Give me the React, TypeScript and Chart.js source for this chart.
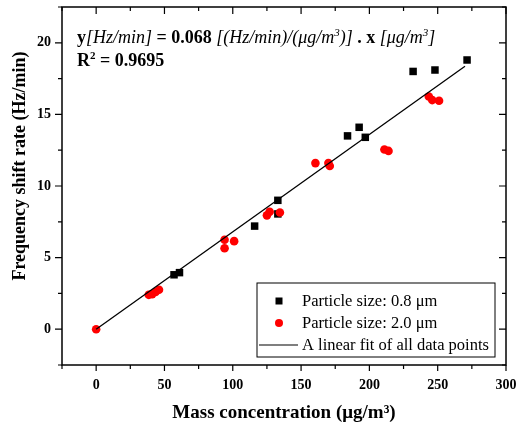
import React, { useEffect, useRef } from "react";
import { Chart, registerables } from "chart.js";

Chart.register(...registerables);

// ---- Data ----
const small08X = [57, 61, 116, 133, 133, 184, 192.5, 197, 232, 248, 271.5];
const small08Y = [3.8, 3.95, 7.2, 9.0, 8.05, 13.5, 14.1, 13.4, 18.0, 18.1, 18.8];
const large20X = [0, 38.5, 41, 43.5, 46, 94, 94, 101, 125, 127, 134.5, 160.5, 170, 171, 211, 214, 243.5, 246, 251];
const large20Y = [0, 2.4, 2.45, 2.6, 2.75, 6.25, 5.65, 6.15, 7.95, 8.2, 8.15, 11.6, 11.6, 11.4, 12.55, 12.45, 16.25, 16.0, 15.95];
const fitX = [0, 270];
const fitY = [0, 18.36];

const seriesLabels = ["Particle size: 0.8 \u03bcm", "Particle size: 2.0 \u03bcm", "A linear fit of all data points"];
const xTitle = "Mass concentration (\u03bcg/m\u00b3)";
const yTitle = "Frequency shift rate (Hz/min)";
const xMin = -25, xMax = 300, xStep = 25, xMajor = 50;
const yMin = -2.5, yMax = 22.5, yStep = 2.5, yMajor = 5;

const FONT = "'Liberation Serif', 'Times New Roman', serif";

const toPts = (xs: number[], ys: number[]) => xs.map((x, i) => ({ x, y: ys[i] }));

const framePlugin = {
  id: "frameTicks",
  afterDraw(chart: any) {
    const { ctx, chartArea: a, scales } = chart;
    const xs = scales.x, ys = scales.y;
    ctx.save();
    ctx.strokeStyle = "#000";
    ctx.lineWidth = 1.5;
    ctx.strokeRect(a.left, a.top, a.right - a.left, a.bottom - a.top);
    ctx.lineWidth = 1.2;
    ctx.beginPath();
    xs.ticks.forEach((t: any) => {
      const v = t.value;
      const px = xs.getPixelForValue(v);
      const major = Math.abs(v % xMajor) < 1e-9;
      const out = major ? 6 : 4;
      const inn = major ? 7 : 4;
      ctx.moveTo(px, a.bottom);
      ctx.lineTo(px, a.bottom + out);
      ctx.moveTo(px, a.top);
      ctx.lineTo(px, a.top + inn);
    });
    ys.ticks.forEach((t: any) => {
      const v = t.value;
      const py = ys.getPixelForValue(v);
      const major = Math.abs(v % yMajor) < 1e-9;
      const out = major ? 7 : 4;
      const inn = major ? 7 : 4;
      ctx.moveTo(a.left, py);
      ctx.lineTo(a.left - out, py);
      ctx.moveTo(a.right, py);
      ctx.lineTo(a.right - inn, py);
    });
    ctx.stroke();
    ctx.restore();
  },
};

type Seg = { t: string; f: string; sup?: boolean };

const drawSegs = (ctx: CanvasRenderingContext2D, segs: Seg[], x: number, y: number, size: number) => {
  let cx = x;
  segs.forEach((s) => {
    const sz = s.sup ? Math.round(size * 0.6) : size;
    ctx.font = `${s.f} ${sz}px ${FONT}`;
    ctx.fillText(s.t, cx, s.sup ? y - size * 0.4 : y);
    cx += ctx.measureText(s.t).width;
  });
};

const annotationPlugin = {
  id: "fitAnnotation",
  afterDraw(chart: any) {
    const { ctx, chartArea: a } = chart;
    ctx.save();
    ctx.fillStyle = "#000";
    ctx.textBaseline = "alphabetic";
    const size = 18;
    drawSegs(ctx, [
      { t: "y", f: "bold" },
      { t: "[Hz/min]", f: "italic" },
      { t: " = ", f: "bold" },
      { t: "0.068", f: "bold" },
      { t: " [(Hz/min)/(\u03bcg/m", f: "italic" },
      { t: "3", f: "italic", sup: true },
      { t: ")]", f: "italic" },
      { t: " . x ", f: "bold" },
      { t: "[\u03bcg/m", f: "italic" },
      { t: "3", f: "italic", sup: true },
      { t: "]", f: "italic" },
    ], a.left + 15, a.top + 36, size);
    drawSegs(ctx, [
      { t: "R", f: "bold" },
      { t: "2", f: "bold", sup: true },
      { t: " = 0.9695", f: "bold" },
    ], a.left + 15, a.top + 59, size);
    ctx.restore();
  },
};

const yTitlePlugin = {
  id: "yTitle",
  afterDraw(chart: any) {
    const { ctx } = chart;
    ctx.save();
    ctx.translate(20, 166);
    ctx.rotate(-Math.PI / 2);
    ctx.fillStyle = "#000";
    ctx.font = `bold 18px ${FONT}`;
    ctx.textAlign = "center";
    ctx.textBaseline = "middle";
    ctx.fillText(yTitle, 0, 0);
    ctx.restore();
  },
};

const legendPlugin = {
  id: "boxLegend",
  afterDraw(chart: any) {
    const { ctx, chartArea: a } = chart;
    const ds = chart.data.datasets;
    const order = [2, 1, 0];
    const bx = a.left + 195, by = a.top + 276, bw = 238, bh = 74;
    ctx.save();
    ctx.fillStyle = "#fff";
    ctx.fillRect(bx, by, bw, bh);
    ctx.strokeStyle = "#000";
    ctx.lineWidth = 1;
    ctx.strokeRect(bx, by, bw, bh);
    ctx.font = `16.5px ${FONT}`;
    ctx.textBaseline = "middle";
    order.forEach((di, i) => {
      const d = ds[di];
      const cy = by + 18 + i * 22;
      const mx = bx + 22;
      if (d.showLine) {
        ctx.strokeStyle = d.borderColor;
        ctx.lineWidth = 1.2;
        ctx.beginPath();
        ctx.moveTo(bx + 2, cy);
        ctx.lineTo(bx + 41, cy);
        ctx.stroke();
      } else if (d.pointStyle === "rect") {
        ctx.fillStyle = d.backgroundColor;
        ctx.fillRect(mx - 3.5, cy - 3.5, 7, 7);
      } else {
        ctx.fillStyle = d.backgroundColor;
        ctx.beginPath();
        ctx.arc(mx, cy, 4, 0, Math.PI * 2);
        ctx.fill();
      }
      ctx.fillStyle = "#000";
      ctx.fillText(d.label, bx + 45, cy + 1);
    });
    ctx.restore();
  },
};

export default function App() {
  const ref = useRef<HTMLCanvasElement | null>(null);
  useEffect(() => {
    if (!ref.current) return;
    const chart = new Chart(ref.current, {
      type: "scatter",
      data: {
        datasets: [
          {
            label: seriesLabels[2],
            data: toPts(fitX, fitY),
            showLine: true,
            borderColor: "#000",
            borderWidth: 1.3,
            pointRadius: 0,
            backgroundColor: "#000",
          } as any,
          {
            label: seriesLabels[1],
            data: toPts(large20X, large20Y),
            pointStyle: "circle",
            pointRadius: 4.3,
            backgroundColor: "#ff0000",
            borderColor: "#ff0000",
            borderWidth: 0,
          },
          {
            label: seriesLabels[0],
            data: toPts(small08X, small08Y),
            pointStyle: "rect",
            pointRadius: 5.3,
            backgroundColor: "#000",
            borderColor: "#000",
            borderWidth: 0,
          },
        ],
      },
      options: {
        responsive: false,
        animation: false,
        layout: { padding: { left: 0, top: 7, right: 18, bottom: 0 } },
        plugins: { legend: { display: false }, tooltip: { enabled: false } },
        scales: {
          x: {
            type: "linear",
            min: xMin,
            max: xMax,
            grid: { display: false, drawTicks: false },
            border: { display: false },
            afterFit: (s: any) => { s.height = 61; s.paddingLeft = 0; s.paddingRight = 0; },
            ticks: {
              stepSize: xStep,
              padding: 12,
              autoSkip: false,
              maxRotation: 0,
              color: "#000",
              font: { family: FONT, size: 14, weight: "bold" },
              callback: (v: any) => (Math.abs(Number(v) % xMajor) < 1e-9 ? String(v) : ""),
            },
            title: {
              display: true,
              text: xTitle,
              color: "#000",
              font: { family: FONT, size: 19, weight: "bold" },
              padding: { top: 0, bottom: 2 },
            },
          },
          y: {
            type: "linear",
            min: yMin,
            max: yMax,
            grid: { display: false, drawTicks: false },
            border: { display: false },
            afterFit: (s: any) => { s.width = 62; s.paddingTop = 0; s.paddingBottom = 0; },
            ticks: {
              stepSize: yStep,
              padding: 11,
              autoSkip: false,
              color: "#000",
              font: { family: FONT, size: 14, weight: "bold" },
              callback: (v: any) => (Math.abs(Number(v) % yMajor) < 1e-9 ? String(v) : ""),
            },
          },
        },
      },
      plugins: [framePlugin, annotationPlugin, legendPlugin, yTitlePlugin],
    });
    return () => chart.destroy();
  }, []);
  return (
    <div style={{ position: "absolute", left: 0, top: 0, width: 524, height: 426, background: "#fff" }}>
      <canvas ref={ref} width={524} height={426} />
    </div>
  );
}
